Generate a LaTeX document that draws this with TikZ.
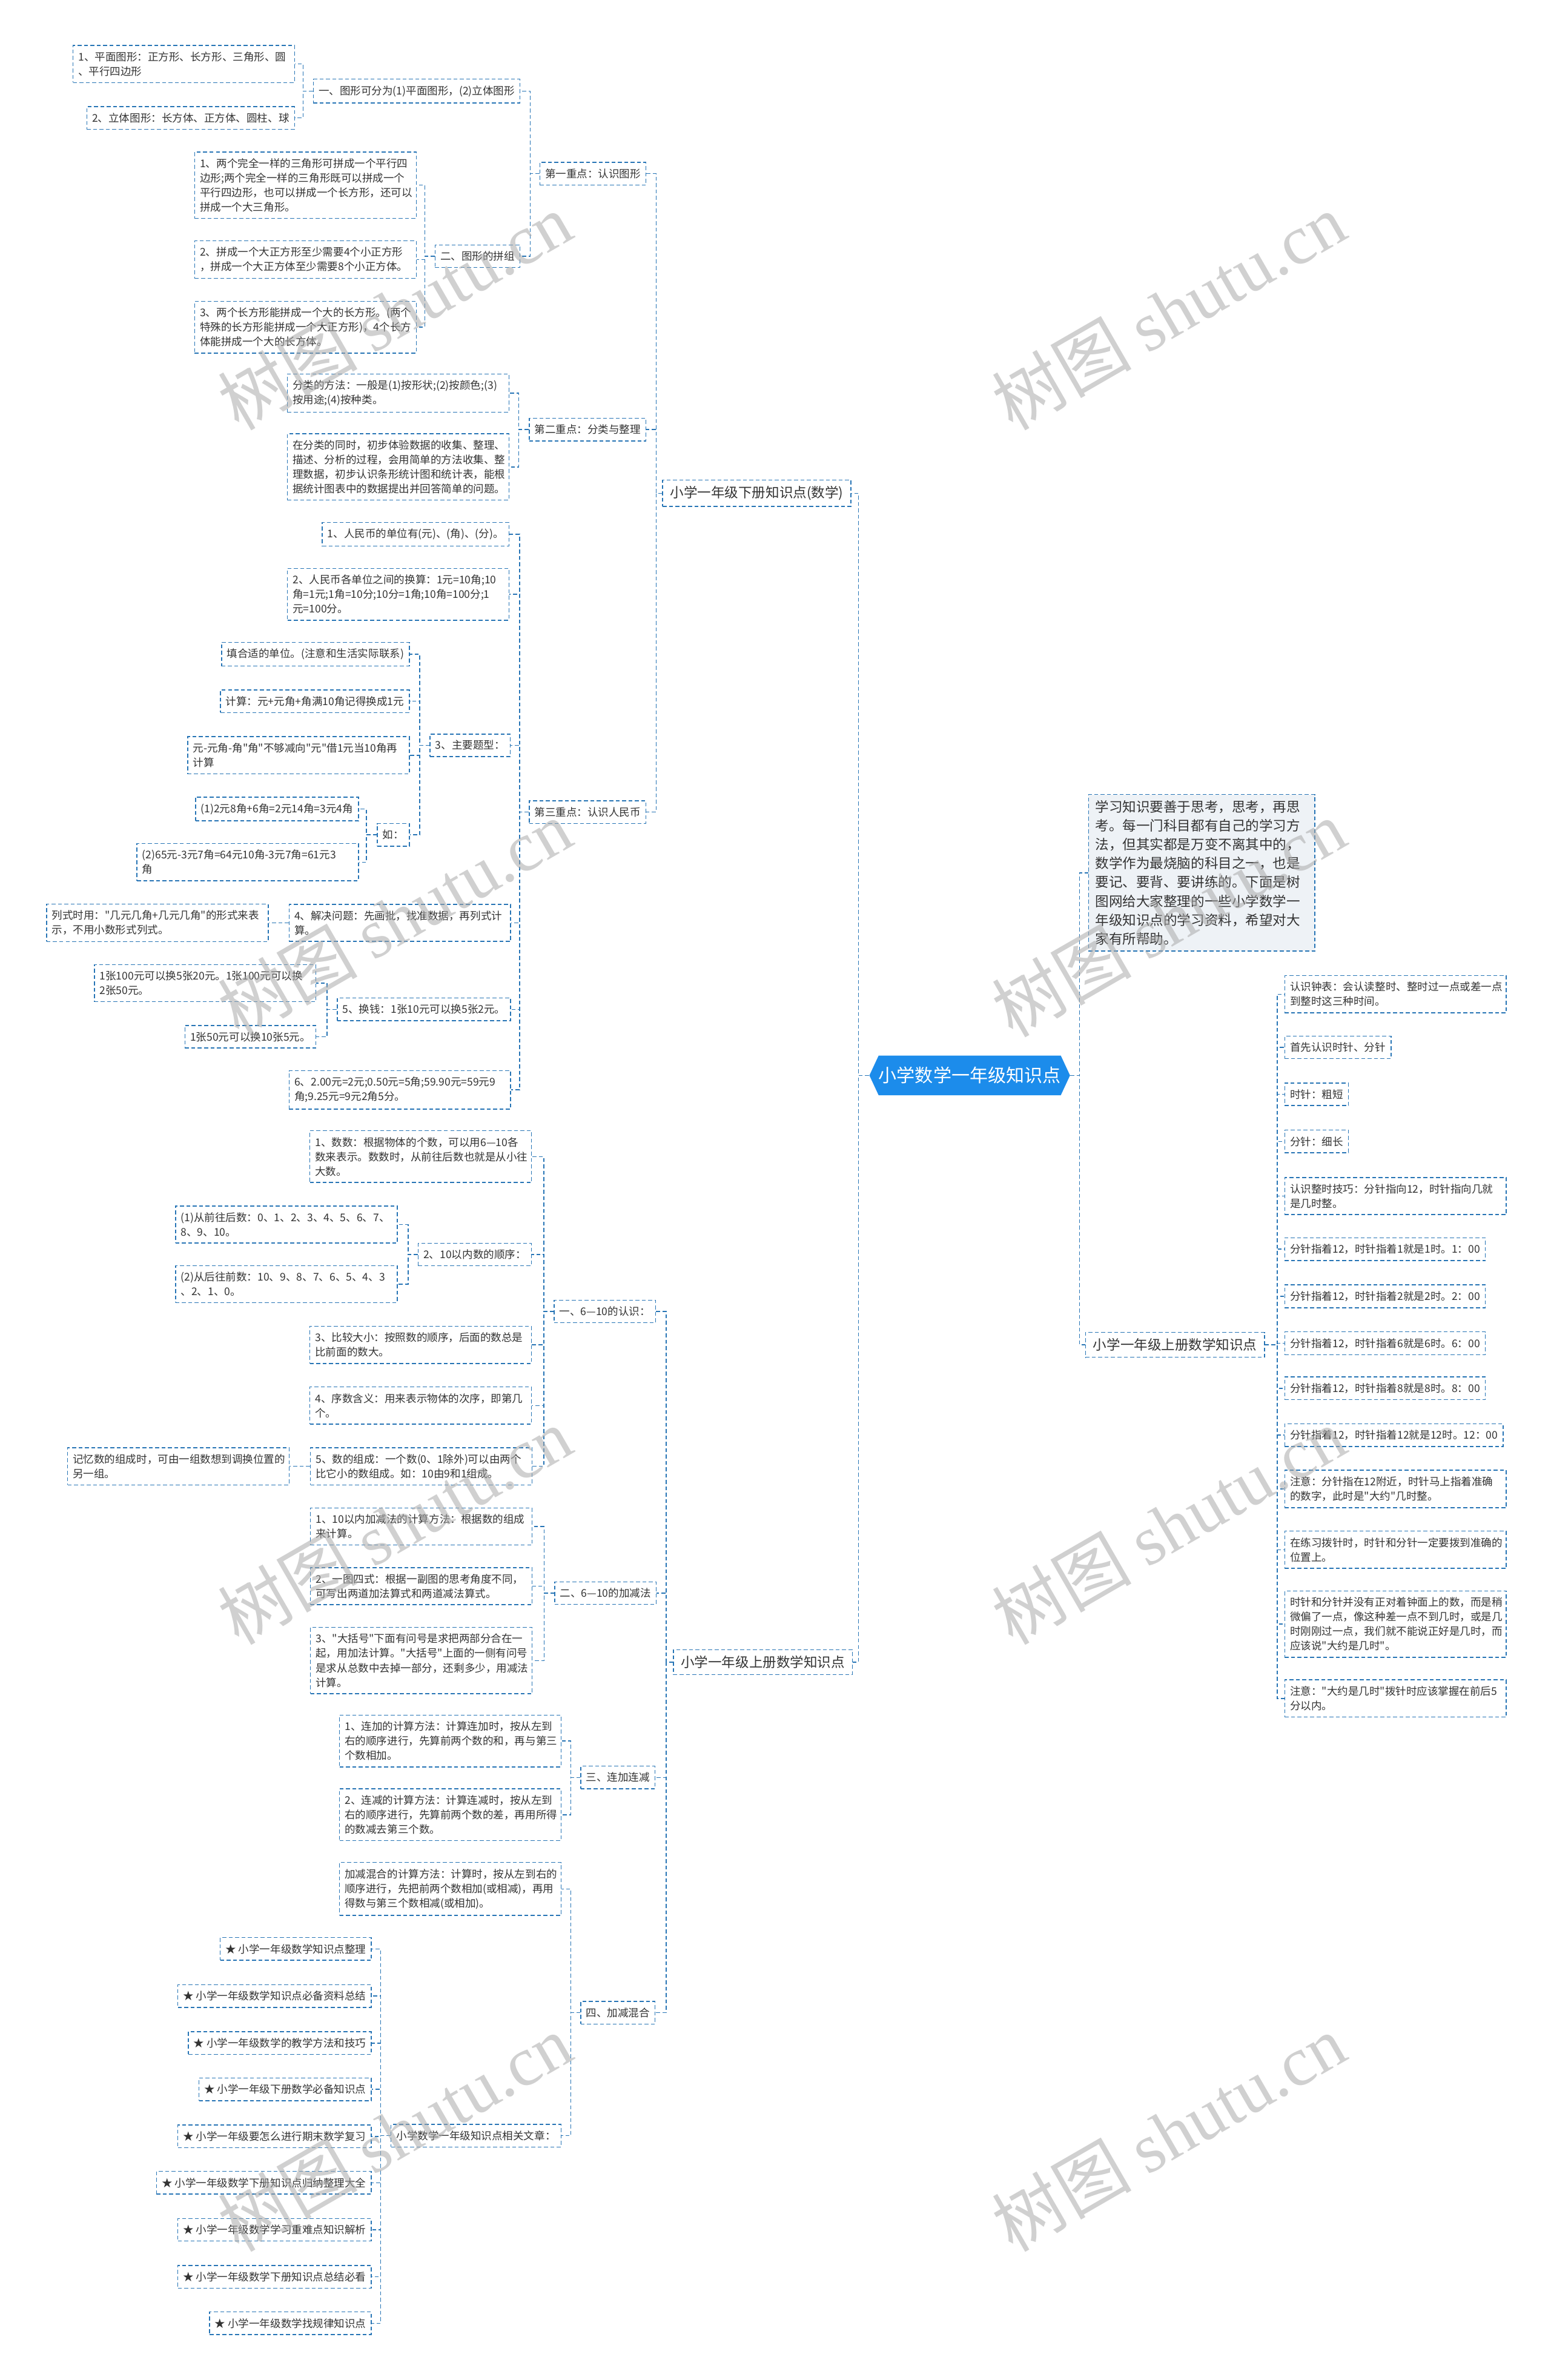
\documentclass[tikz,border=0pt]{standalone}
\usepackage{fontspec}
\defaultfontfeatures[\rmfamily]{}
\setmainfont{Noto Sans CJK SC}
\newfontfamily\wmserif{Liberation Serif}
\usetikzlibrary{shapes.symbols}
\definecolor{linkblue}{RGB}{38,116,181}
\definecolor{rootblue}{RGB}{28,140,235}
\definecolor{notebg}{RGB}{238,242,246}
\definecolor{txtgrey}{RGB}{51,51,51}
\definecolor{wmgrey}{RGB}{170,170,170}
\exhyphenpenalty=10000

\begin{document}
\begin{tikzpicture}[x=1pt, y=-1pt,
  conn/.style={draw=linkblue, line width=0.6pt, dash pattern=on 2.6pt off 1.6pt},
  box/.style={conn, fill=white, text=txtgrey, inner xsep=3.5pt, inner ysep=4.2pt,
    align=left, font=\fontsize{7}{9.6}\selectfont},
  widebox/.style={box, text width=139pt},
  topic/.style={box, inner xsep=5pt, inner ysep=4pt, font=\fontsize{9}{11}\selectfont},
  notebox/.style={box, fill=notebg, text width=140pt, inner xsep=4.5pt, inner ysep=4pt,
    font=\fontsize{9}{12.4}\selectfont},
  root/.style={signal, signal to=west and east, signal pointer angle=130, fill=rootblue,
    text=white, inner xsep=0pt, inner ysep=7.5pt, font=\fontsize{12}{14}\selectfont},
  wmark/.style={rotate=30, text=wmgrey, text opacity=0.55, font=\fontsize{46}{50}\selectfont},
]
  \fill[white] (0,0) rectangle (1022,1568);
  \useasboundingbox (0,0) rectangle (1022,1568);

  \node[root] (root) at (639,708.5) {小学数学一年级知识点};
  \node[topic, anchor=east] (b1) at (561,325) {小学一年级下册知识点(数学)};
  \node[topic, anchor=east] (b2) at (562,1095) {小学一年级上册数学知识点};
  \node[notebox, anchor=west] (note) at (717,575) {学习知识要善于思考，思考，再思\\考。每一门科目都有自己的学习方\\法，但其实都是万变不离其中的，\\数学作为最烧脑的科目之一，也是\\要记、要背、要讲练的。下面是树\\图网给大家整理的一些小学数学一\\年级知识点的学习资料，希望对大\\家有所帮助。};
  \node[topic, anchor=west] (b3) at (715,886) {小学一年级上册数学知识点};

  % 下册
  \node[box, anchor=east] (k1) at (426,114.4) {第一重点：认识图形};
  \node[box, anchor=east] (k2) at (426,283) {第二重点：分类与整理};
  \node[box, anchor=east] (k3) at (426,535) {第三重点：认识人民币};

  \node[box, anchor=east] (g1) at (343,60) {一、图形可分为(1)平面图形，(2)立体图形};
  \node[box, anchor=east] (g2) at (343,168.8) {二、图形的拼组};
  \node[widebox, anchor=east] (g1a) at (194.4,42.2) {1、平面图形：正方形、长方形、三角形、圆\\、平行四边形};
  \node[box, anchor=east] (g1b) at (194.4,77.7) {2、立体图形：长方体、正方体、圆柱、球};
  \node[widebox, anchor=east] (g2a) at (274.6,122) {1、两个完全一样的三角形可拼成一个平行四\\边形;两个完全一样的三角形既可以拼成一个\\平行四边形，也可以拼成一个长方形，还可以\\拼成一个大三角形。};
  \node[widebox, anchor=east] (g2b) at (274.6,171) {2、拼成一个大正方形至少需要4个小正方形\\，拼成一个大正方体至少需要8个小正方体。};
  \node[widebox, anchor=east] (g2c) at (274.6,215.6) {3、两个长方形能拼成一个大的长方形。(两个\\特殊的长方形能拼成一个大正方形)，4个长方\\体能拼成一个大的长方体。};

  \node[widebox, anchor=east] (c1) at (335.7,259) {分类的方法：一般是(1)按形状;(2)按颜色;(3)\\按用途;(4)按种类。};
  \node[widebox, anchor=east] (c2) at (335.7,307.6) {在分类的同时，初步体验数据的收集、整理、\\描述、分析的过程，会用简单的方法收集、整\\理数据，初步认识条形统计图和统计表，能根\\据统计图表中的数据提出并回答简单的问题。};

  \node[box, anchor=east] (m1) at (335.7,352) {1、人民币的单位有(元)、(角)、(分)。};
  \node[widebox, anchor=east] (m2) at (335.7,391.5) {2、人民币各单位之间的换算：1元=10角;10\\角=1元;1角=10分;10分=1角;10角=100分;1\\元=100分。};
  \node[box, anchor=east] (m3) at (336.6,491) {3、主要题型：};
  \node[widebox, anchor=east] (m4) at (336.8,608) {4、解决问题：先画批，找准数据，再列式计\\算。};
  \node[box, anchor=east] (m5) at (336.8,665) {5、换钱：1张10元可以换5张2元。};
  \node[widebox, anchor=east] (m6) at (336.8,718) {6、2.00元=2元;0.50元=5角;59.90元=59元9\\角;9.25元=9元2角5分。};

  \node[box, anchor=east] (t1) at (270,431) {填合适的单位。(注意和生活实际联系)};
  \node[box, anchor=east] (t2) at (270,462) {计算：元+元角+角满10角记得换成1元};
  \node[widebox, anchor=east] (t3) at (270,497.6) {元-元角-角"角"不够减向"元"借1元当10角再\\计算};
  \node[box, anchor=east] (t4) at (270,550) {如：};
  \node[box, anchor=east] (e1) at (236.5,533) {(1)2元8角+6角=2元14角=3元4角};
  \node[widebox, anchor=east] (e2) at (236.5,568) {(2)65元-3元7角=64元10角-3元7角=61元3\\角};
  \node[widebox, anchor=east] (n1) at (177,608) {列式时用："几元几角+几元几角"的形式来表\\示，不用小数形式列式。};
  \node[widebox, anchor=east] (x1) at (208.5,647.7) {1张100元可以换5张20元。1张100元可以换\\2张50元。};
  \node[box, anchor=east] (x2) at (208.5,683) {1张50元可以换10张5元。};

  % 上册 (left)
  \node[box, anchor=east] (s1) at (432.3,864) {一、6—10的认识：};
  \node[box, anchor=east] (s2) at (432.7,1049.6) {二、6—10的加减法};
  \node[box, anchor=east] (s3) at (432,1171) {三、连加连减};
  \node[box, anchor=east] (s4) at (432,1326) {四、加减混合};

  \node[widebox, anchor=east] (p1) at (350.5,762) {1、数数：根据物体的个数，可以用6—10各\\数来表示。数数时，从前往后数也就是从小往\\大数。};
  \node[box, anchor=east] (p2) at (350.5,826.5) {2、10以内数的顺序：};
  \node[widebox, anchor=east] (p3) at (350.5,886) {3、比较大小：按照数的顺序，后面的数总是\\比前面的数大。};
  \node[widebox, anchor=east] (p4) at (350.5,926) {4、序数含义：用来表示物体的次序，即第几\\个。};
  \node[widebox, anchor=east] (p5) at (350.9,966) {5、数的组成：一个数(0、1除外)可以由两个\\比它小的数组成。如：10由9和1组成。};
  \node[widebox, anchor=east] (q1) at (262,806.8) {(1)从前往后数：0、1、2、3、4、5、6、7、\\8、9、10。};
  \node[widebox, anchor=east] (q2) at (262,846) {(2)从后往前数：10、9、8、7、6、5、4、3\\、2、1、0。};
  \node[widebox, anchor=east] (r1) at (190.8,966) {记忆数的组成时，可由一组数想到调换位置的\\另一组。};

  \node[widebox, anchor=east] (a1) at (350.9,1005.7) {1、10以内加减法的计算方法：根据数的组成\\来计算。};
  \node[widebox, anchor=east] (a2) at (350.9,1045) {2、一图四式：根据一副图的思考角度不同，\\可写出两道加法算式和两道减法算式。};
  \node[widebox, anchor=east] (a3) at (350.9,1094) {3、"大括号"下面有问号是求把两部分合在一\\起，用加法计算。"大括号"上面的一侧有问号\\是求从总数中去掉一部分，还剩多少，用减法\\计算。};

  \node[widebox, anchor=east] (l1) at (370,1147) {1、连加的计算方法：计算连加时，按从左到\\右的顺序进行，先算前两个数的和，再与第三\\个数相加。};
  \node[widebox, anchor=east] (l2) at (370,1195.6) {2、连减的计算方法：计算连减时，按从左到\\右的顺序进行，先算前两个数的差，再用所得\\的数减去第三个数。};

  \node[widebox, anchor=east] (h1) at (370,1244.5) {加减混合的计算方法：计算时，按从左到右的\\顺序进行，先把前两个数相加(或相减)，再用\\得数与第三个数相减(或相加)。};
  \node[box, anchor=east] (h2) at (370,1407) {小学数学一年级知识点相关文章：};

  \foreach \i/\y/\t in {1/1284/小学一年级数学知识点整理, 2/1315/小学一年级数学知识点必备资料总结,
      3/1346/小学一年级数学的教学方法和技巧, 4/1376.5/小学一年级下册数学必备知识点,
      5/1407.5/小学一年级要怎么进行期末数学复习, 6/1438/小学一年级数学下册知识点归纳整理大全,
      7/1469/小学一年级数学学习重难点知识解析, 8/1500/小学一年级数学下册知识点总结必看,
      9/1530.6/小学一年级数学找规律知识点}
    \node[box, anchor=east] (w\i) at (245,\y) {★ \t};

  % 上册 (right)
  \node[widebox, anchor=west] (u1) at (846.3,655) {认识钟表：会认读整时、整时过一点或差一点\\到整时这三种时间。};
  \node[box, anchor=west] (u2) at (846.3,690) {首先认识时针、分针};
  \node[box, anchor=west] (u3) at (846.3,721) {时针：粗短};
  \node[box, anchor=west] (u4) at (846.3,752) {分针：细长};
  \node[widebox, anchor=west] (u5) at (846.3,788) {认识整时技巧：分针指向12，时针指向几就\\是几时整。};
  \node[box, anchor=west] (u6) at (846.3,823) {分针指着12，时针指着1就是1时。1：00};
  \node[box, anchor=west] (u7) at (846.3,854) {分针指着12，时针指着2就是2时。2：00};
  \node[box, anchor=west] (u8) at (846.3,885) {分针指着12，时针指着6就是6时。6：00};
  \node[box, anchor=west] (u9) at (846.3,914.6) {分针指着12，时针指着8就是8时。8：00};
  \node[box, anchor=west] (u10) at (846.3,945.5) {分针指着12，时针指着12就是12时。12：00};
  \node[widebox, anchor=west] (u11) at (846.3,981) {注意：分针指在12附近，时针马上指着准确\\的数字，此时是"大约"几时整。};
  \node[widebox, anchor=west] (u12) at (846.3,1021) {在练习拨针时，时针和分针一定要拨到准确的\\位置上。};
  \node[widebox, anchor=west] (u13) at (846.3,1070) {时针和分针并没有正对着钟面上的数，而是稍\\微偏了一点，像这种差一点不到几时，或是几\\时刚刚过一点，我们就不能说正好是几时，而\\应该说"大约是几时"。};
  \node[widebox, anchor=west] (u14) at (846.3,1119) {注意："大约是几时"拨针时应该掌握在前后5\\分以内。};

  \draw[conn] (root.west) -- ++(-7,0) |- (b1.east);
  \draw[conn] (root.west) -- ++(-7,0) |- (b2.east);
  \foreach \c in {note,b3} \draw[conn] (root.east) -- ++(6,0) |- (\c.west);
  \foreach \c in {k1,k2,k3} \draw[conn] (b1.west) -- ++(-4,0) |- (\c.east);
  \foreach \c in {g1,g2} \draw[conn] (k1.west) -- ++(-6,0) |- (\c.east);
  \foreach \c in {g1a,g1b} \draw[conn] (g1.west) -- ++(-6.5,0) |- (\c.east);
  \foreach \c in {g2a,g2b,g2c} \draw[conn] (g2.west) -- ++(-6.5,0) |- (\c.east);
  \foreach \c in {c1,c2} \draw[conn] (k2.west) -- ++(-6.5,0) |- (\c.east);
  \foreach \c in {m1,m2,m3,m4,m5,m6} \draw[conn] (k3.west) -- ++(-6,0) |- (\c.east);
  \foreach \c in {t1,t2,t3,t4} \draw[conn] (m3.west) -- ++(-6.5,0) |- (\c.east);
  \foreach \c in {e1,e2} \draw[conn] (t4.west) -- ++(-7,0) |- (\c.east);
  \draw[conn] (m4.west) -- (n1.east);
  \foreach \c in {x1,x2} \draw[conn] (m5.west) -- ++(-6.3,0) |- (\c.east);
  \foreach \c in {s1,s2,s3,s4} \draw[conn] (b2.west) -- ++(-4.5,0) |- (\c.east);
  \foreach \c in {p1,p2,p3,p4,p5} \draw[conn] (s1.west) -- ++(-6.5,0) |- (\c.east);
  \foreach \c in {q1,q2} \draw[conn] (p2.west) -- ++(-6.3,0) |- (\c.east);
  \draw[conn] (p5.west) -- (r1.east);
  \foreach \c in {a1,a2,a3} \draw[conn] (s2.west) -- ++(-6.7,0) |- (\c.east);
  \foreach \c in {l1,l2} \draw[conn] (s3.west) -- ++(-6.2,0) |- (\c.east);
  \foreach \c in {h1,h2} \draw[conn] (s4.west) -- ++(-6.2,0) |- (\c.east);
  \foreach \i in {1,...,9} \draw[conn] (h2.west) -- ++(-6.5,0) |- (w\i.east);
  \foreach \i in {1,...,14} \draw[conn] (b3.east) -- ++(8,0) |- (u\i.west);

  \foreach \wx in {260,770} \foreach \wy in {205,605,1005,1405}
    \node[wmark] (wm\wx-\wy) at (\wx,\wy) {树图 {\wmserif shutu.cn}};
\end{tikzpicture}
\end{document}
